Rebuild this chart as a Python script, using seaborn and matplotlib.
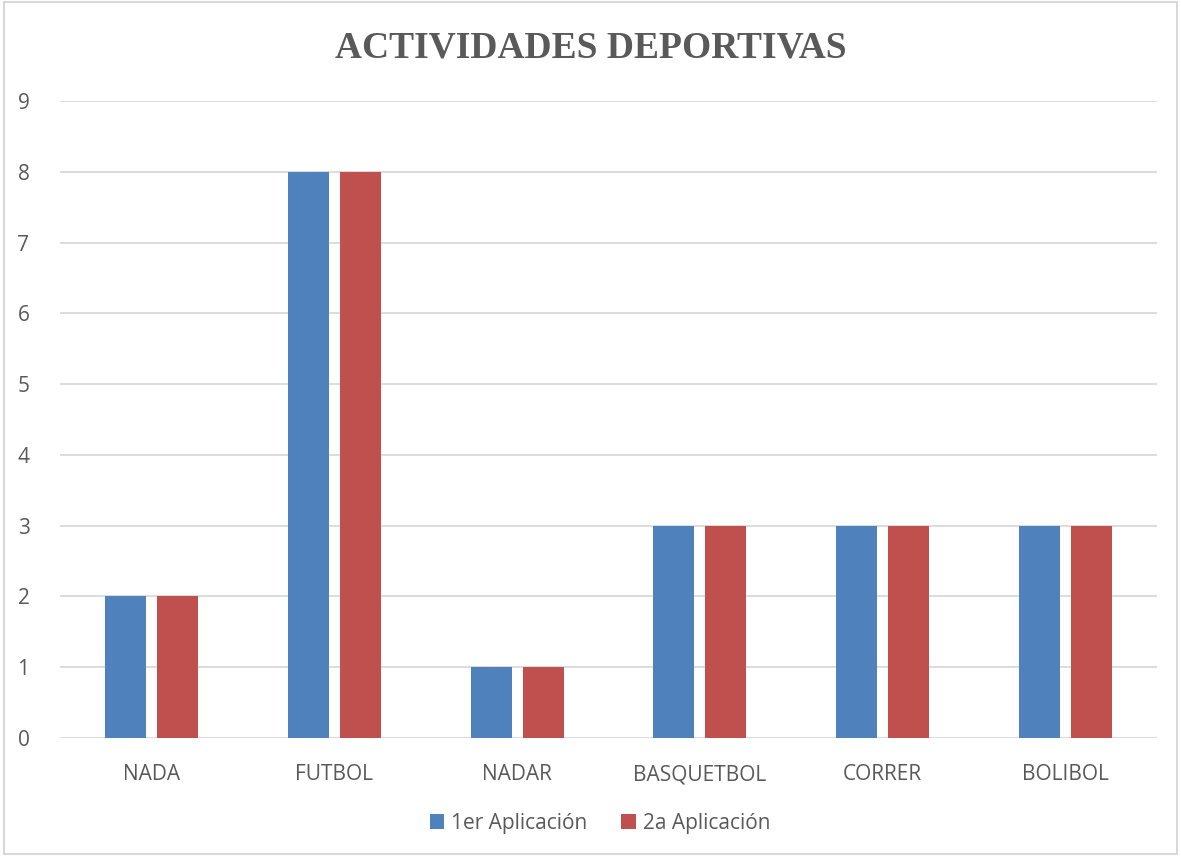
import matplotlib
matplotlib.use("Agg")
import matplotlib.pyplot as plt
import seaborn as sns
import pandas as pd
from matplotlib.patches import Rectangle

categories = ["NADA", "FUTBOL", "NADAR", "BASQUETBOL", "CORRER", "BOLIBOL"]
serie_1 = [2, 8, 1, 3, 3, 3]
serie_2 = [2, 8, 1, 3, 3, 3]
series_names = ["1er Aplicación", "2a Aplicación"]
title = "ACTIVIDADES DEPORTIVAS"

df = pd.DataFrame({
    "cat": categories * 2,
    "val": serie_1 + serie_2,
    "serie": [series_names[0]] * len(categories) + [series_names[1]] * len(categories),
})

sns.set_theme(style="white")
plt.rcParams["font.family"] = ["Open Sans", "DejaVu Sans"]

fig = plt.figure(figsize=(11.81, 8.56), dpi=100)
ax = fig.add_axes([60/1181, 1-738/856, (1157-60)/1181, (738-101)/856])

palette = {series_names[0]: "#4F81BD", series_names[1]: "#C0504D"}
sns.barplot(data=df, x="cat", y="val", hue="serie", palette=palette,
            width=0.568, gap=0.21, ax=ax, saturation=1, edgecolor="none")

ax.set_ylim(0, 9)
ax.set_xlim(-0.5, len(categories) - 0.5)
ax.set_yticks(range(0, 10))
ax.yaxis.grid(True, color="#D9D9D9", linewidth=1.3)
ax.set_axisbelow(True)
for s in ax.spines.values():
    s.set_visible(False)
ax.set_xlabel("")
ax.set_ylabel("")
ax.tick_params(axis="both", length=0, colors="#595959", labelsize=15)
ax.tick_params(axis="y", pad=22)
ax.tick_params(axis="x", pad=19)

leg = ax.legend(loc="center", bbox_to_anchor=(600/1181, (856-823)/856), bbox_transform=fig.transFigure,
                ncol=2, frameon=False, fontsize=15, handlelength=0.7, handleheight=0.7,
                handletextpad=0.35, columnspacing=1.6)
for t in leg.get_texts():
    t.set_color("#595959")

fig.text(0.5, 1-48/856, title, ha="center", va="center", fontsize=27,
         fontweight="bold", color="#595959", family="Liberation Serif")

fig.patches.append(Rectangle((4/1181, 2/856), 1-8/1181, 1-4/856, transform=fig.transFigure,
                             fill=False, edgecolor="#D9D9D9", linewidth=1.5))

fig.savefig("out.png", dpi=100, facecolor="white")
